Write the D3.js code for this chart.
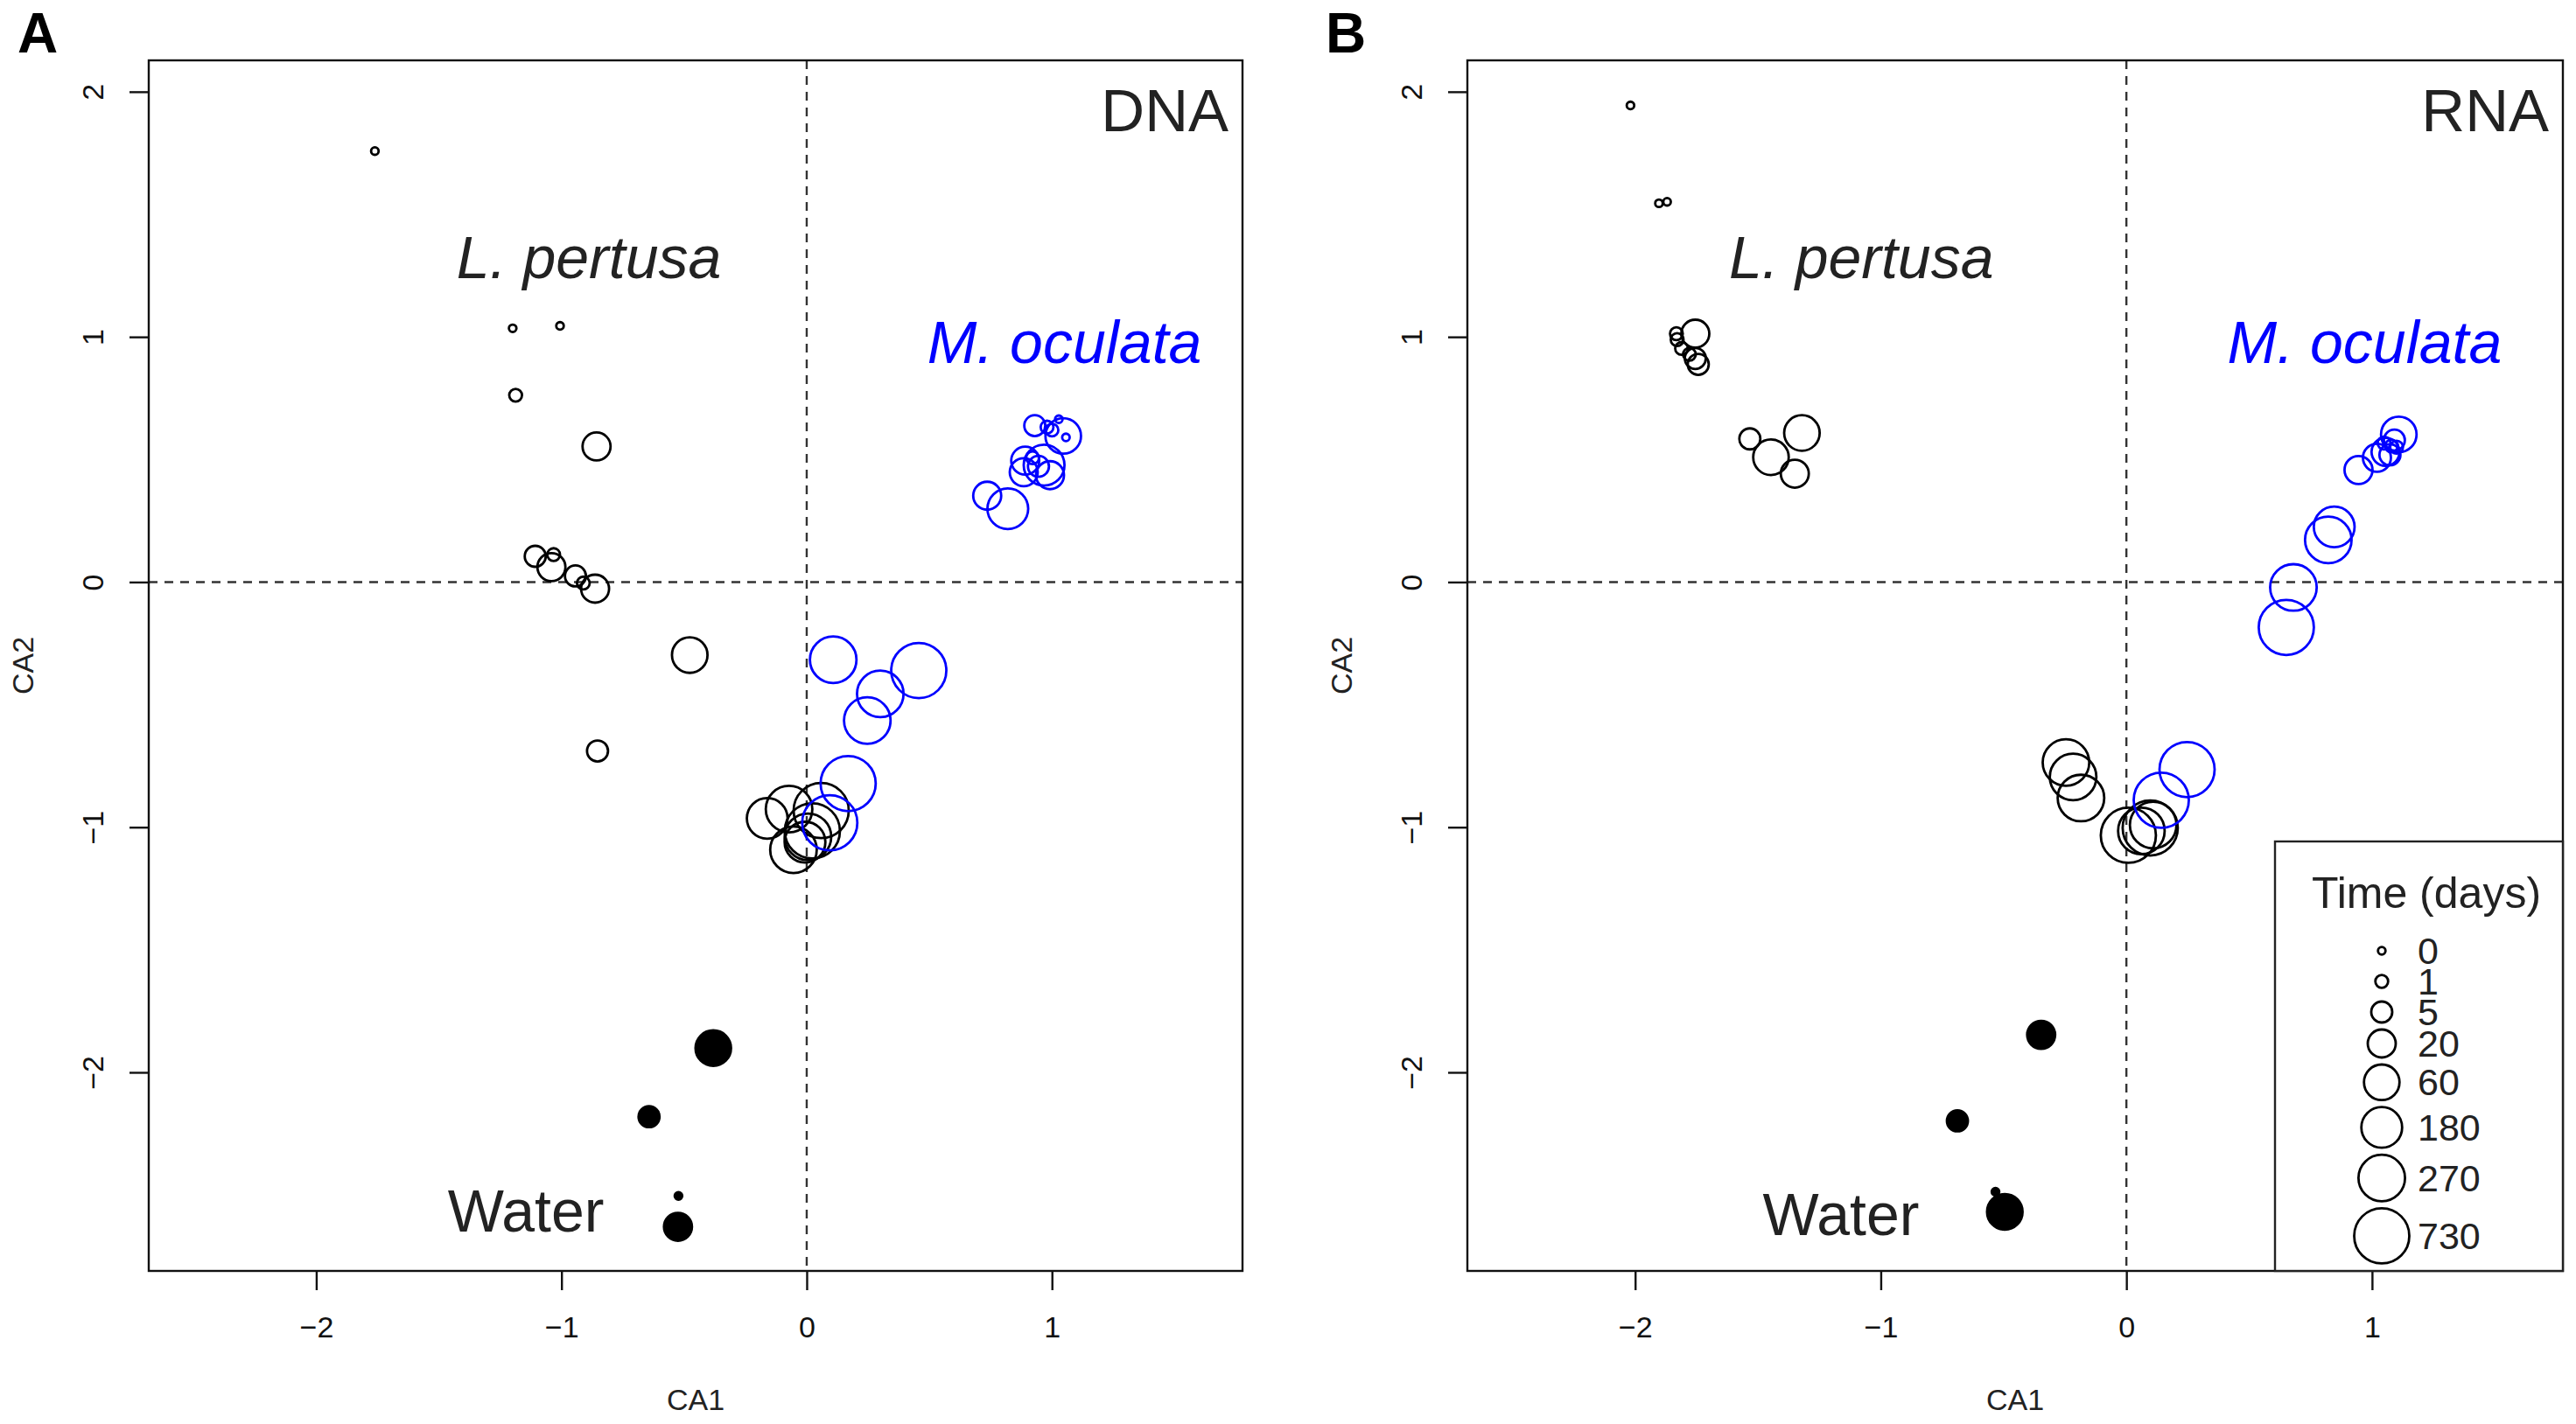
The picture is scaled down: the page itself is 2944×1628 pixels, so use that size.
<!DOCTYPE html>
<html>
<head>
<meta charset="utf-8">
<script src="https://cdn.jsdelivr.net/npm/d3@7"></script>
<style>
  body { margin: 0; background: #fff; }
  text { font-family: "Liberation Sans", Arial, Helvetica, sans-serif; }
</style>
</head>
<body>
<svg id="chart"></svg>
<script>
// --------------------
//  data
// --------------------
const groups = ["L. pertusa", "M. oculata", "Water"];
const timeLevels = [0, 1, 5, 20, 60, 180, 270, 730];

// DNA: group index 0 = L. pertusa, 1 = M. oculata, 2 = Water
const dnaCA1 = [
  -1.761, -1.199, -1.006, -1.187, -0.857, -1.107, -1.041, -1.032, -0.943, -0.911,
  -0.863, -0.477, -0.853, -0.161, -0.072, -0.054, 0.059, 0.023, 0.005, -0.007,
  0.736, 0.820, 0.930, 0.980, 1.028, 1.057, 1.046, 1.000, 0.891, 0.968,
  0.885, 0.992, 0.921, 0.945, 0.108, 0.457, 0.300, 0.247, 0.169, 0.094,
  -0.381, -0.643, -0.523, -0.525
];
const dnaCA2 = [
  1.758, 1.035, 1.045, 0.762, 0.553, 0.105, 0.061, 0.112, 0.025, -0.004,
  -0.027, -0.298, -0.689, -0.964, -0.926, -1.092, -0.932, -1.015, -1.039, -1.061,
  0.352, 0.299, 0.638, 0.632, 0.664, 0.590, 0.596, 0.620, 0.495, 0.477,
  0.448, 0.436, 0.507, 0.472, -0.317, -0.361, -0.456, -0.565, -0.822, -0.982,
  -1.901, -2.181, -2.504, -2.630
];
const dnaTime = [
  0, 0, 0, 1, 20, 5, 20, 1, 5, 1,
  20, 60, 5, 180, 270, 270, 730, 730, 270, 180,
  20, 180, 5, 1, 0, 0, 60, 1, 20, 180,
  20, 20, 1, 5, 270, 730, 270, 270, 730, 730,
  60, 5, 0, 20
];
const dnaGroup = [
  0, 0, 0, 0, 0, 0, 0, 0, 0, 0,
  0, 0, 0, 0, 0, 0, 0, 0, 0, 0,
  1, 1, 1, 1, 1, 1, 1, 1, 1, 1,
  1, 1, 1, 1, 1, 1, 1, 1, 1, 1,
  2, 2, 2, 2
];

// RNA
const rnaCA1 = [
  -2.019, -1.903, -1.870, -1.832, -1.829, -1.755, -1.811, -1.779, -1.755, -1.743,
  -1.533, -1.321, -1.447, -1.350, -0.246, -0.217, -0.185, 0.008, 0.061, 0.097, 0.109,
  0.945, 1.109, 1.055, 1.020, 1.091, 1.079, 1.073, 1.100, 1.049,
  0.846, 0.822, 0.680, 0.651, 0.142, 0.247,
  -0.347, -0.688, -0.533, -0.495
];
const rnaCA2 = [
  1.944, 1.545, 1.551, 1.013, 0.989, 1.013, 0.953, 0.929, 0.912, 0.888,
  0.584, 0.608, 0.509, 0.442, -0.736, -0.795, -0.881, -1.033, -1.015, -1.003, -0.991,
  0.457, 0.602, 0.531, 0.507, 0.579, 0.555, 0.519, 0.550, 0.567,
  0.225, 0.172, -0.022, -0.185, -0.890, -0.765,
  -1.847, -2.198, -2.487, -2.569
];
const rnaTime = [
  0, 0, 0, 1, 1, 20, 1, 1, 5, 5,
  5, 60, 60, 20, 270, 270, 270, 730, 270, 730, 270,
  20, 60, 20, 20, 5, 1, 5, 1, 1,
  180, 270, 270, 730, 730, 730,
  20, 5, 0, 60
];
const rnaGroup = [
  0, 0, 0, 0, 0, 0, 0, 0, 0, 0,
  0, 0, 0, 0, 0, 0, 0, 0, 0, 0, 0,
  1, 1, 1, 1, 1, 1, 1, 1, 1,
  1, 1, 1, 1, 1, 1,
  2, 2, 2, 2
];

// group label anchors (data units)
const dnaLabelCA1 = [-0.888, 1.051, -1.145];
const dnaLabelCA2 = [1.24, 0.892, -2.649];
const rnaLabelCA1 = [-1.079, 0.970, -1.162];
const rnaLabelCA2 = [1.24, 0.892, -2.663];

const xTicks = [-2, -1, 0, 1];
const yTicks = [-2, -1, 0, 1, 2];

// --------------------
//  settings
// --------------------
const width = 2944;
const height = 1628;
const plotTop = 69, plotBottom = 1453;
const xDomain = [-2.683, 1.777];
const yDomain = [-2.81, 2.128];

const radius = d3.scaleOrdinal()
  .domain(timeLevels)
  .range([4.3, 7.3, 12, 16, 20.3, 23.3, 26.6, 31.5]);
const color = d3.scaleOrdinal()
  .domain(groups)
  .range(["#000000", "#0000ff", "#000000"]);
const labelColor = d3.scaleOrdinal()
  .domain(groups)
  .range(["#222222", "#0000ff", "#222222"]);
const tickFmt = d3.format("d");

const svg = d3.select("#chart")
  .attr("width", width)
  .attr("height", height)
  .style("background", "#fff");

// --------------------
//  functions
// --------------------
function rows(ca1, ca2, time, grp) {
  return ca1.map((v, i) => ({ca1: v, ca2: ca2[i], time: time[i], group: groups[grp[i]]}));
}

function drawPanel(opt) {
  const x = d3.scaleLinear().domain(xDomain).range([opt.left, opt.right]);
  const y = d3.scaleLinear().domain(yDomain).range([plotBottom, plotTop]);
  const g = svg.append("g");

  // 0 lines
  g.append("line")
    .attr("x1", x(0)).attr("x2", x(0))
    .attr("y1", plotTop).attr("y2", plotBottom)
    .attr("stroke", "#333").attr("stroke-width", 2.4)
    .attr("stroke-dasharray", "10,8");
  g.append("line")
    .attr("x1", opt.left).attr("x2", opt.right)
    .attr("y1", y(0)).attr("y2", y(0))
    .attr("stroke", "#333").attr("stroke-width", 2.4)
    .attr("stroke-dasharray", "10,8");

  // points
  g.append("g").selectAll("circle")
    .data(opt.data)
    .join("circle")
    .attr("cx", d => x(d.ca1))
    .attr("cy", d => y(d.ca2))
    .attr("r", d => radius(d.time))
    .attr("fill", d => d.group === "Water" ? "#000" : "none")
    .attr("stroke", d => color(d.group))
    .attr("stroke-width", 2.8);

  // group labels
  g.append("g").selectAll("text")
    .data(groups)
    .join("text")
    .attr("x", (d, i) => x(opt.labelCA1[i]))
    .attr("y", (d, i) => y(opt.labelCA2[i]))
    .attr("text-anchor", "middle")
    .attr("font-size", 68)
    .attr("font-style", d => d === "Water" ? "normal" : "italic")
    .attr("fill", d => labelColor(d))
    .text(d => d);

  // DNA / RNA
  g.append("text")
    .attr("x", x(1.72))
    .attr("y", 150)
    .attr("text-anchor", "end")
    .attr("font-size", 69)
    .attr("fill", "#222")
    .text(opt.title);

  // axes
  const xAxis = g.append("g")
    .attr("transform", `translate(0,${plotBottom})`)
    .call(d3.axisBottom(x).tickValues(xTicks).tickFormat(tickFmt).tickSize(22).tickSizeOuter(0));
  xAxis.selectAll(".tick text")
    .attr("y", 64).attr("dy", "0.35em")
    .attr("font-size", 34)
    .attr("font-family", "Liberation Sans, Arial, sans-serif")
    .attr("fill", "#111");

  const yAxis = g.append("g")
    .attr("transform", `translate(${opt.left},0)`)
    .call(d3.axisLeft(y).tickValues(yTicks).tickFormat(tickFmt).tickSize(22).tickSizeOuter(0));
  yAxis.selectAll(".tick text")
    .attr("transform", "rotate(-90)")
    .attr("x", 0).attr("y", -64).attr("dy", "0.35em")
    .attr("text-anchor", "middle")
    .attr("font-size", 34)
    .attr("font-family", "Liberation Sans, Arial, sans-serif")
    .attr("fill", "#111");
  g.selectAll(".tick line").attr("stroke", "#111").attr("stroke-width", 2.4);
  g.selectAll(".domain").attr("stroke", "none");

  // box
  g.append("rect")
    .attr("x", opt.left).attr("y", plotTop)
    .attr("width", opt.right - opt.left).attr("height", plotBottom - plotTop)
    .attr("fill", "none").attr("stroke", "#111").attr("stroke-width", 2.4);

  // axis titles
  g.append("text")
    .attr("x", (opt.left + opt.right) / 2)
    .attr("y", plotBottom + 147).attr("dy", "0.35em")
    .attr("text-anchor", "middle")
    .attr("font-size", 34).attr("fill", "#222")
    .text("CA1");
  g.append("text")
    .attr("transform", `translate(${opt.left - 144},${(plotTop + plotBottom) / 2}) rotate(-90)`)
    .attr("dy", "0.35em")
    .attr("text-anchor", "middle")
    .attr("font-size", 34).attr("fill", "#222")
    .text("CA2");

  // panel letter
  svg.append("text")
    .attr("x", opt.letterX).attr("y", 60)
    .attr("font-size", 64).attr("font-weight", "bold")
    .attr("fill", "#000")
    .text(opt.letter);

  return {x, y, g};
}

function drawLegend(panel, right) {
  const lw = 329, lh = 491;
  const lx = right - lw, ly = plotBottom - lh;
  const lg = panel.g.append("g");
  lg.append("rect")
    .attr("x", lx).attr("y", ly).attr("width", lw).attr("height", lh)
    .attr("fill", "#fff").attr("stroke", "#222").attr("stroke-width", 2.4);
  lg.append("text")
    .attr("x", lx + 173).attr("y", ly + 76)
    .attr("text-anchor", "middle")
    .attr("font-size", 50).attr("fill", "#222")
    .text("Time (days)");

  // spacing follows the circle sizes
  const ys = [];
  timeLevels.forEach((t, i) => {
    if (i === 0) ys.push(ly + 125);
    else ys.push(ys[i - 1] + Math.max(35, radius(timeLevels[i - 1]) + radius(t) + 8));
  });
  const items = lg.selectAll("g.item")
    .data(timeLevels)
    .join("g").attr("class", "item")
    .attr("transform", (d, i) => `translate(${lx + 122},${ys[i]})`);
  items.append("circle")
    .attr("r", d => radius(d))
    .attr("fill", "none").attr("stroke", "#000").attr("stroke-width", 2.8);
  items.append("text")
    .attr("x", 41).attr("dy", "0.35em")
    .attr("font-size", 43).attr("fill", "#222")
    .text(d => d);
}

// --------------------
//  init
// --------------------
drawPanel({
  left: 170, right: 1420, title: "DNA", letter: "A", letterX: 20,
  data: rows(dnaCA1, dnaCA2, dnaTime, dnaGroup),
  labelCA1: dnaLabelCA1, labelCA2: dnaLabelCA2
});
const panelB = drawPanel({
  left: 1677, right: 2929, title: "RNA", letter: "B", letterX: 1515,
  data: rows(rnaCA1, rnaCA2, rnaTime, rnaGroup),
  labelCA1: rnaLabelCA1, labelCA2: rnaLabelCA2
});
drawLegend(panelB, 2929);
</script>
</body>
</html>
